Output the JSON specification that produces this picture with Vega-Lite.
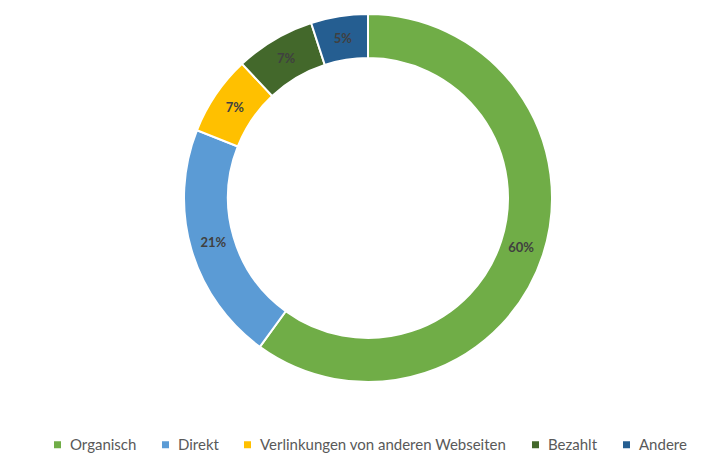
{
  "$schema": "https://vega.github.io/schema/vega-lite/v6.json",
  "width": 702,
  "height": 396,
  "padding": {"left": 17, "top": 0, "right": 0, "bottom": 0},
  "background": "white",
  "config": {"view": {"stroke": null}},
  "data": {
    "values": [
      {"kanal": "Organisch", "anteil": 60, "ord": 1, "label": "60%"},
      {"kanal": "Direkt", "anteil": 21, "ord": 2, "label": "21%"},
      {"kanal": "Verlinkungen von anderen Webseiten", "anteil": 7, "ord": 3, "label": "7%"},
      {"kanal": "Bezahlt", "anteil": 7, "ord": 4, "label": "7%"},
      {"kanal": "Andere", "anteil": 5, "ord": 5, "label": "5%"}
    ]
  },
  "encoding": {
    "theta": {"field": "anteil", "type": "quantitative", "stack": true},
    "order": {"field": "ord", "type": "quantitative"}
  },
  "layer": [
    {
      "mark": {"type": "arc", "outerRadius": 184, "innerRadius": 140, "stroke": "white", "strokeWidth": 2},
      "encoding": {
        "color": {
          "field": "kanal",
          "type": "nominal",
          "sort": null,
          "scale": {
            "domain": ["Organisch", "Direkt", "Verlinkungen von anderen Webseiten", "Bezahlt", "Andere"],
            "range": ["#70AD47", "#5B9BD5", "#FFC000", "#43682B", "#255E91"]
          },
          "legend": {
            "title": null,
            "orient": "none",
            "direction": "horizontal",
            "legendX": 33,
            "legendY": 437,
            "symbolType": "square",
            "symbolSize": 49,
            "symbolStrokeWidth": 0,
            "labelFont": "Lato",
            "labelFontSize": 15,
            "labelLimit": 0,
            "labelColor": "#595959",
            "columnPadding": 21,
            "labelOffset": 5
          }
        }
      }
    },
    {
      "mark": {"type": "text", "radius": 161, "font": "Lato", "fontSize": 13, "fontWeight": "bold", "color": "#404040"},
      "encoding": {"text": {"field": "label", "type": "nominal"}}
    }
  ]
}
